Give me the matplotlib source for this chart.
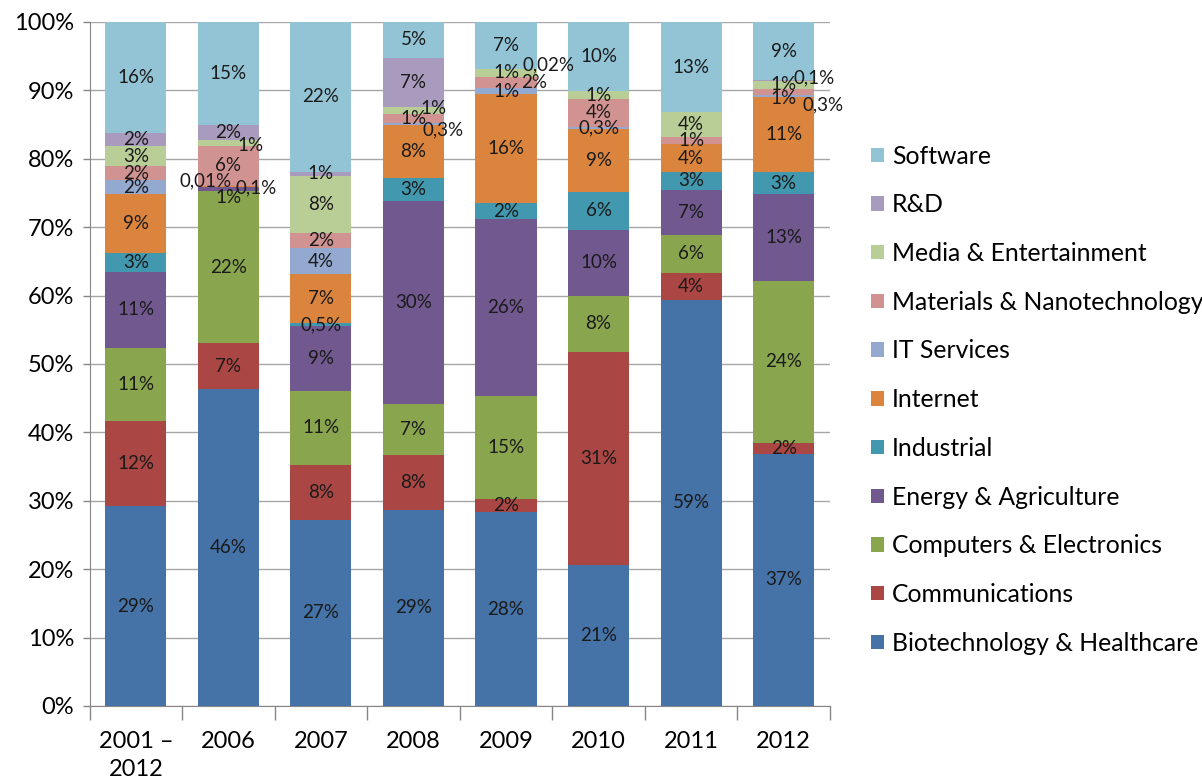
import matplotlib
matplotlib.use("Agg")
import matplotlib.pyplot as plt
from matplotlib.patches import Patch
import numpy as np

plt.rcParams['font.family'] = ['Lato', 'DejaVu Sans']

# --- data (share of total, %) ---
YEARS = ["2001 –\n2012", "2006", "2007", "2008", "2009", "2010", "2011", "2012"]

SECTORS = ["Biotechnology & Healthcare", "Communications", "Computers & Electronics",
           "Energy & Agriculture", "Industrial", "Internet", "IT Services",
           "Materials & Nanotechnology", "Media & Entertainment", "R&D", "Software"]

bio        = [29.2, 46.3, 27.2, 28.7, 28.3, 20.6, 59.4, 36.9]
comm       = [12.4, 6.7, 8.0, 8.0, 1.9, 31.1, 3.9, 1.6]
comp       = [10.8, 22.3, 10.9, 7.4, 15.1, 8.3, 5.6, 23.6]
energy     = [11.1, 0.6, 9.4, 29.7, 25.9, 9.6, 6.6, 12.7]
industrial = [2.7, 0.01, 0.5, 3.4, 2.3, 5.6, 2.6, 3.3]
internet   = [8.6, 0.1, 7.2, 7.7, 15.9, 9.2, 4.0, 10.9]
it_serv    = [2.1, 0.0, 3.7, 0.3, 0.9, 0.3, 0.0, 0.3]
materials  = [2.0, 5.9, 2.3, 1.4, 1.7, 4.0, 1.1, 0.9]
media      = [3.0, 0.9, 8.3, 0.9, 1.1, 1.2, 3.6, 1.2]
rnd        = [1.9, 2.1, 0.6, 7.3, 0.02, 0.0, 0.0, 0.1]
software   = [16.2, 15.1, 21.9, 5.2, 6.9, 10.1, 13.2, 8.5]

SERIES = [bio, comm, comp, energy, industrial, internet, it_serv,
          materials, media, rnd, software]

COLORS = ["#4572A7", "#AA4643", "#89A54E", "#71588F", "#4198AF", "#DB843D",
          "#93A9CF", "#D19392", "#B9CD96", "#A99BBD", "#93C4D6"]

# labels nudged aside where thin segments overlap: (series, bar) -> (dx, dy) in px
NUDGE = {
    (8, 1): (22, 3), (4, 1): (-23, -6), (5, 1): (28, 1), (3, 1): (0, 9),
    (8, 3): (20, -2), (6, 3): (30, 6),
    (9, 4): (42, -4), (7, 4): (28, 0),
    (9, 7): (30, -3), (7, 7): (0, 6), (6, 7): (39, 9),
}


def fmt_pct(v):
    if v >= 0.55:
        return f"{int(v + 0.5)}%"
    return f"{v:g}".replace(".", ",") + "%"


fig = plt.figure(figsize=(12.02, 7.82), dpi=100)
ax = fig.add_axes([0.0745, 0.0972, 0.616, 0.8747])

x = np.arange(len(YEARS))
bottom = np.zeros(len(YEARS))
for s, (vals, col) in enumerate(zip(SERIES, COLORS)):
    vals = np.array(vals)
    ax.bar(x, vals, width=0.66, bottom=bottom, color=col, zorder=3)
    for b, v in enumerate(vals):
        if v <= 0:
            continue
        dx, dy = NUDGE.get((s, b), (0, 0))
        ax.annotate(fmt_pct(v), (x[b], bottom[b] + v / 2),
                    xytext=(dx * 0.72, -dy * 0.72), textcoords="offset points",
                    ha="center", va="center", fontsize=13.5, color="#1a1a1a",
                    zorder=5, annotation_clip=False)
    bottom += vals

ax.set_xlim(-0.5, len(YEARS) - 0.5)
ax.set_ylim(0, 100)
ax.set_yticks(np.arange(0, 101, 10))
ax.set_yticklabels([f"{t}%" for t in range(0, 101, 10)], fontsize=17)
ax.set_xticks(x)
ax.set_xticklabels(YEARS, fontsize=17, linespacing=1.4)
ax.set_xticks(np.arange(-0.5, len(YEARS)), minor=True)
ax.tick_params(axis="x", which="major", length=0, pad=18)
ax.tick_params(axis="x", which="minor", length=10, color="#868686", width=1)
ax.tick_params(axis="y", length=5, color="#868686", width=1, pad=6)

ax.grid(axis="y", color="#a6a6a6", linewidth=1, zorder=0)
for side in ["top", "right"]:
    ax.spines[side].set_visible(False)
for side in ["left", "bottom"]:
    ax.spines[side].set_color("#868686")

handles = [Patch(facecolor=c, label=n) for n, c in zip(SECTORS, COLORS)][::-1]
fig.legend(handles=handles, loc="center left", bbox_to_anchor=(0.7165, 0.489),
           frameon=False, fontsize=17.8, handlelength=0.52, handleheight=0.52,
           handletextpad=0.33, labelspacing=1.04, borderaxespad=0)

fig.savefig("out.png", dpi=100)
